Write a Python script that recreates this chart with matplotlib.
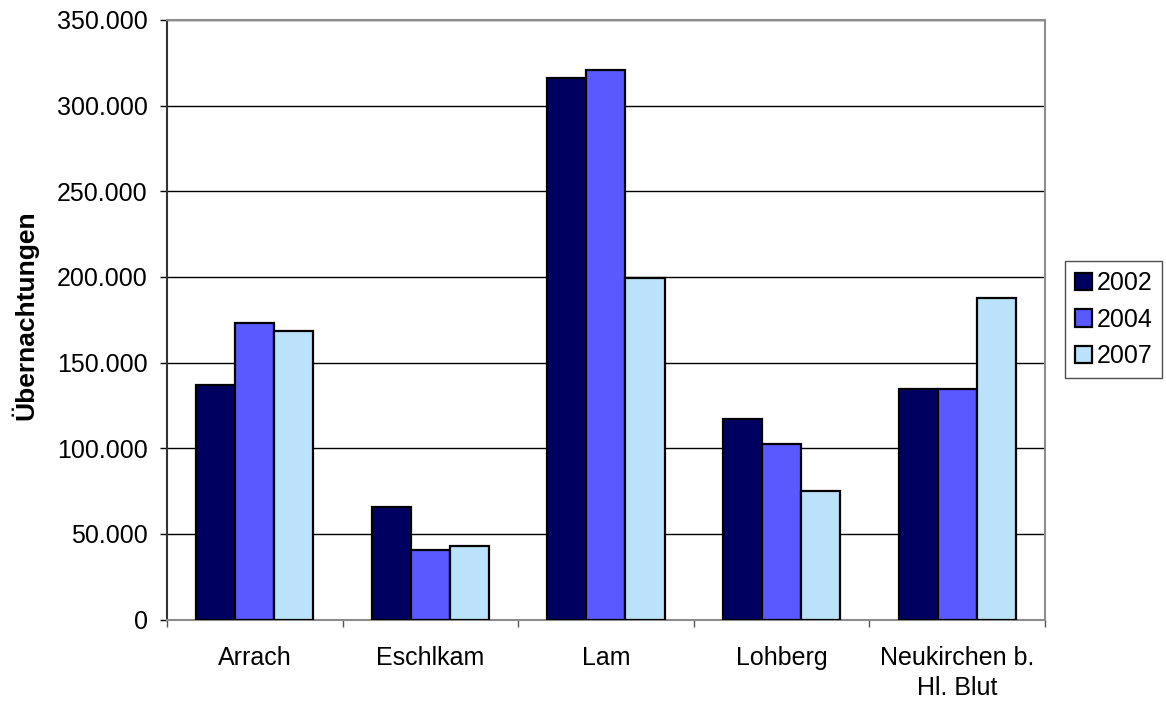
import numpy as np
import matplotlib
matplotlib.use("Agg")
import matplotlib.pyplot as plt
from matplotlib.ticker import FuncFormatter

# ==============================
# Data
# ==============================

orte = ["Arrach", "Eschlkam", "Lam", "Lohberg", "Neukirchen b.\nHl. Blut"]
jahre = ["2002", "2004", "2007"]
werte_2002 = [137000, 65500, 316000, 117000, 134500]
werte_2004 = [173000, 40500, 321000, 102500, 134500]
werte_2007 = [168500, 43000, 199500, 75300, 187500]
farben = ["#000060", "#5959FF", "#BAE2FA"]

# ==============================
# Plot
# ==============================

plt.rcParams["font.family"] = ["Liberation Sans", "DejaVu Sans"]

fig = plt.figure(figsize=(11.66, 7.04), dpi=100)
ax = fig.add_axes([0.1432, 0.12, 0.7530, 0.8516])

x = np.arange(len(orte))
breite = 1 / 4.5
for i, (jahr, werte) in enumerate(zip(jahre, [werte_2002, werte_2004, werte_2007])):
    ax.bar(x + (i - 1) * breite, werte, width=breite, color=farben[i],
           edgecolor="black", linewidth=1.6, label=jahr, zorder=3)

ax.set_xlim(-0.5, len(orte) - 0.5)
ax.set_ylim(0, 350000)
ax.set_yticks(np.arange(0, 350001, 50000))
ax.yaxis.set_major_formatter(FuncFormatter(lambda v, p: f"{int(v):,}".replace(",", ".")))
ax.grid(axis="y", color="black", linewidth=1.0, zorder=0)

# category boundaries as ticks, names centred between them
ax.set_xticks(np.arange(-0.5, len(orte)), labels=[""] * (len(orte) + 1))
ax.set_xticks(x, labels=orte, minor=True)
ax.tick_params(axis="x", which="major", length=5, width=1, color="#555555", direction="out")
ax.tick_params(axis="x", which="minor", length=0, pad=19, labelsize=18)
ax.tick_params(axis="y", length=5, width=1, color="black", pad=9, labelsize=18)

for lbl in ax.get_xticklabels(minor=True):
    lbl.set_multialignment("center")
    lbl.set_linespacing(1.3)

ax.spines["left"].set_color("#333333")
ax.spines["left"].set_linewidth(1.5)
for s in ["top", "right", "bottom"]:
    ax.spines[s].set_color("#8C8C8C")
    ax.spines[s].set_linewidth(1.5)

ax.set_ylabel("Übernachtungen", fontsize=19, fontweight="bold")
ax.yaxis.set_label_coords(-0.147, 0.508)

leg = ax.legend(loc="center left", bbox_to_anchor=(1.0228, 0.5), fontsize=18,
                frameon=True, fancybox=False, edgecolor="#222222",
                handlelength=0.68, handleheight=0.68, handletextpad=0.18,
                borderpad=0.4, labelspacing=0.5, borderaxespad=0)
leg.get_frame().set_linewidth(1.0)

fig.savefig("out.png", dpi=100, facecolor="white")
